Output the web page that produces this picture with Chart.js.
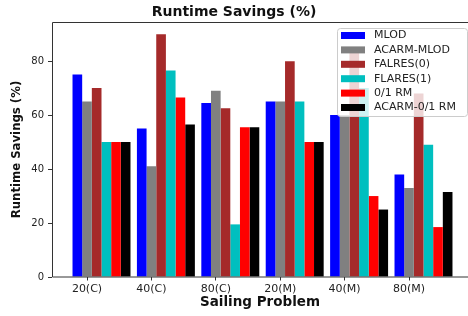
<!DOCTYPE html>
<html>
<head>
<meta charset="utf-8">
<script src="https://cdn.jsdelivr.net/npm/chart.js@4/dist/chart.umd.min.js"></script>
<style>
    html, body { margin: 0; padding: 0; background: #fff; overflow: hidden; }
    #wrap { width: 468px; height: 316px; }
</style>
</head>
<body>
<div id="wrap"><canvas id="savingsChart"></canvas></div>
<script>
// Chart data
const categories = ['20(C)', '40(C)', '80(C)', '20(M)', '40(M)', '80(M)'];
const seriesNames = ['MLOD', 'ACARM-MLOD', 'FALRES(0)', 'FLARES(1)', '0/1 RM', 'ACARM-0/1 RM'];
const mlod = [75, 55, 64.5, 65, 60, 38];
const acarmMlod = [65, 41, 69, 65, 60, 33];
const falres0 = [70, 90, 62.5, 80, 85, 68];
const flares1 = [50, 76.5, 19.5, 65, 70, 49];
const rm01 = [50, 66.5, 55.5, 50, 30, 18.5];
const acarmRm01 = [50, 56.5, 55.5, 50, 25, 31.5];
const yTicks = [0, 20, 40, 60, 80];

const seriesValues = [mlod, acarmMlod, falres0, flares1, rm01, acarmRm01];
const seriesColors = ['#0000ff', '#808080', '#a52a2a', '#00bfbf', '#ff0000', '#000000'];

// bar width in category units (6 bars fill 0.9 of a slot)
const barUnit = 0.15;
// matplotlib put the tick under the second bar of each group
const tickShift = -1.5 * barUnit;

Chart.defaults.font.family = 'DejaVu Sans';
Chart.defaults.color = '#222';

// Spines: left, bottom and top (the right one falls outside the picture)
const framePlugin = {
    id: 'frame',
    afterDatasetsDraw(chart) {
        const { ctx, chartArea: a } = chart;
        const l = Math.round(a.left) + 0.5;
        const t = Math.round(a.top) + 0.5;
        const b = Math.round(a.bottom);
        ctx.save();
        ctx.strokeStyle = '#333';
        ctx.lineWidth = 1;
        ctx.beginPath();
        ctx.moveTo(a.right, t);
        ctx.lineTo(l, t);
        ctx.lineTo(l, b);
        ctx.lineTo(a.right, b);
        ctx.stroke();
        ctx.restore();
    }
};

// Legend box in the upper right corner of the axes
const legendBoxPlugin = {
    id: 'legendBox',
    afterDatasetsDraw(chart) {
        const { ctx, chartArea: a } = chart;
        const right = a.right - 1;
        const left = right - 130;
        const top = a.top + 6;
        const rowH = 14.4;
        const height = 88;
        ctx.save();
        ctx.beginPath();
        ctx.roundRect(left + 0.5, top + 0.5, right - left, height, 3);
        ctx.fillStyle = 'rgba(255,255,255,0.8)';
        ctx.fill();
        ctx.strokeStyle = '#cccccc';
        ctx.lineWidth = 1;
        ctx.stroke();
        ctx.font = '11px "DejaVu Sans"';
        ctx.textBaseline = 'middle';
        chart.data.datasets.forEach((ds, i) => {
            const cy = top + 7.5 + i * rowH;
            ctx.fillStyle = ds.backgroundColor;
            ctx.fillRect(left + 4, cy - 3.5, 24, 7);
            ctx.fillStyle = '#222';
            ctx.fillText(ds.label, left + 37, cy);
        });
        ctx.restore();
    }
};

function initializeSavingsChart() {
    const ctx = document.getElementById('savingsChart');

    const datasets = seriesNames.map((name, s) => ({
        label: name,
        data: categories.map((c, i) => ({ x: i, y: seriesValues[s][i] })),
        backgroundColor: seriesColors[s],
        borderWidth: 0,
        categoryPercentage: 6 * barUnit,
        barPercentage: 1
    }));

    new Chart(ctx, {
        type: 'bar',
        data: { datasets: datasets },
        options: {
            responsive: true,
            maintainAspectRatio: false,
            animation: false,
            layout: { padding: 0 },
            plugins: {
                legend: { display: false },
                tooltip: { enabled: false },
                title: {
                    display: true,
                    text: 'Runtime Savings (%)',
                    color: '#111',
                    font: { size: 14, weight: 'bold' },
                    padding: { top: 3.6, bottom: 1.6 }
                }
            },
            scales: {
                x: {
                    type: 'linear',
                    offset: false,
                    min: -0.7686,
                    max: 5.691,
                    afterBuildTicks(scale) {
                        scale.ticks = categories.map((c, i) => ({ value: i + tickShift }));
                    },
                    afterFit(scale) { scale.height = 39; },
                    border: { display: false },
                    grid: { offset: false, drawOnChartArea: false, drawTicks: true, tickLength: 3.5, color: '#333' },
                    ticks: {
                        font: { size: 11 },
                        padding: 2,
                        maxRotation: 0,
                        autoSkip: false,
                        callback: (value, index) => categories[index]
                    },
                    title: {
                        display: true,
                        text: 'Sailing Problem',
                        color: '#111',
                        font: { size: 13.5, weight: 'bold' },
                        padding: { top: 0, bottom: 5.4 }
                    }
                },
                y: {
                    min: 0,
                    max: 94.5,
                    afterBuildTicks(scale) {
                        scale.ticks = yTicks.map(v => ({ value: v }));
                    },
                    afterFit(scale) { scale.width = 52; },
                    border: { display: false },
                    grid: { drawOnChartArea: false, drawTicks: true, tickLength: 4, color: '#333' },
                    ticks: { font: { size: 10 }, padding: 4 },
                    title: {
                        display: true,
                        text: 'Runtime Savings (%)',
                        color: '#111',
                        font: { family: '"DejaVu Sans Condensed", "DejaVu Sans"', size: 13, weight: 'bold' },
                        padding: { top: 9, bottom: 0 }
                    }
                }
            }
        },
        plugins: [framePlugin, legendBoxPlugin]
    });
}

document.addEventListener('DOMContentLoaded', initializeSavingsChart);
</script>
</body>
</html>
